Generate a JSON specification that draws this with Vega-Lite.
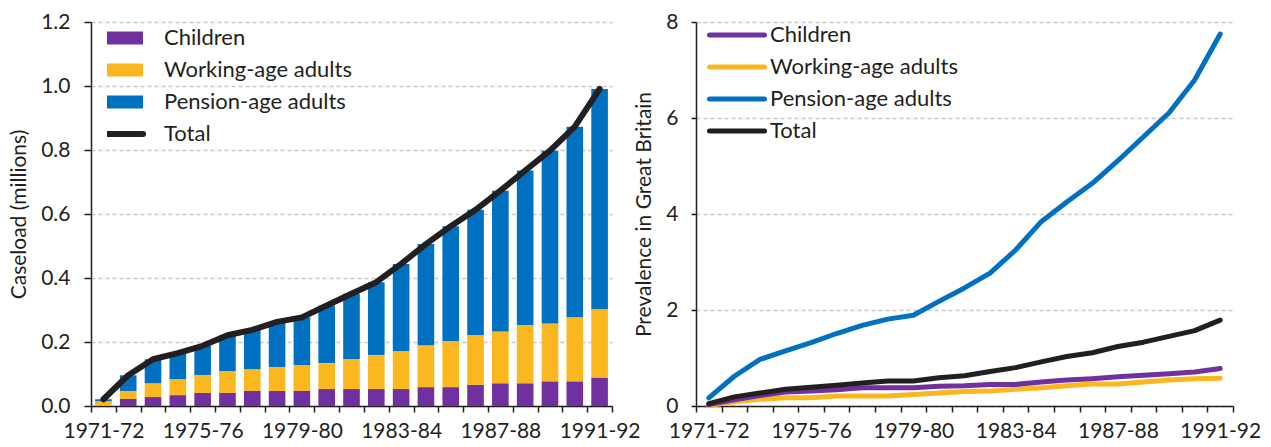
{
  "$schema": "https://vega.github.io/schema/vega-lite/v6.json",
  "padding": {"left": 8, "top": 11, "right": 5, "bottom": 0},
  "bounds": "flush",
  "spacing": 84,
  "config": {
    "font": "Lato",
    "view": {"stroke": null},
    "axis": {"labelFontSize": 21, "labelColor": "#231F20", "titleFontSize": 21, "titleFontWeight": "normal", "titleColor": "#231F20", "domainColor": "#231F20", "tickColor": "#231F20", "domainWidth": 1.5, "tickWidth": 1.5, "gridColor": "#C8C8C8", "gridDash": [4, 3], "gridWidth": 1.5},
    "legend": {"labelFontSize": 22, "labelColor": "#231F20", "labelLimit": 400, "symbolSize": 2500}
  },
  "datasets": {
    "caseload": [
      {"year":"1971-72","group":"Children","stackOrder":1,"value":0.001},{"year":"1971-72","group":"Working-age adults","stackOrder":2,"value":0.014},{"year":"1971-72","group":"Pension-age adults","stackOrder":3,"value":0.006},
      {"year":"1972-73","group":"Children","stackOrder":1,"value":0.022},{"year":"1972-73","group":"Working-age adults","stackOrder":2,"value":0.025},{"year":"1972-73","group":"Pension-age adults","stackOrder":3,"value":0.049},
      {"year":"1973-74","group":"Children","stackOrder":1,"value":0.028},{"year":"1973-74","group":"Working-age adults","stackOrder":2,"value":0.043},{"year":"1973-74","group":"Pension-age adults","stackOrder":3,"value":0.075},
      {"year":"1974-75","group":"Children","stackOrder":1,"value":0.034},{"year":"1974-75","group":"Working-age adults","stackOrder":2,"value":0.050},{"year":"1974-75","group":"Pension-age adults","stackOrder":3,"value":0.081},
      {"year":"1975-76","group":"Children","stackOrder":1,"value":0.041},{"year":"1975-76","group":"Working-age adults","stackOrder":2,"value":0.056},{"year":"1975-76","group":"Pension-age adults","stackOrder":3,"value":0.091},
      {"year":"1976-77","group":"Children","stackOrder":1,"value":0.041},{"year":"1976-77","group":"Working-age adults","stackOrder":2,"value":0.068},{"year":"1976-77","group":"Pension-age adults","stackOrder":3,"value":0.112},
      {"year":"1977-78","group":"Children","stackOrder":1,"value":0.047},{"year":"1977-78","group":"Working-age adults","stackOrder":2,"value":0.068},{"year":"1977-78","group":"Pension-age adults","stackOrder":3,"value":0.123},
      {"year":"1978-79","group":"Children","stackOrder":1,"value":0.047},{"year":"1978-79","group":"Working-age adults","stackOrder":2,"value":0.075},{"year":"1978-79","group":"Pension-age adults","stackOrder":3,"value":0.141},
      {"year":"1979-80","group":"Children","stackOrder":1,"value":0.047},{"year":"1979-80","group":"Working-age adults","stackOrder":2,"value":0.081},{"year":"1979-80","group":"Pension-age adults","stackOrder":3,"value":0.149},
      {"year":"1980-81","group":"Children","stackOrder":1,"value":0.053},{"year":"1980-81","group":"Working-age adults","stackOrder":2,"value":0.081},{"year":"1980-81","group":"Pension-age adults","stackOrder":3,"value":0.180},
      {"year":"1981-82","group":"Children","stackOrder":1,"value":0.053},{"year":"1981-82","group":"Working-age adults","stackOrder":2,"value":0.094},{"year":"1981-82","group":"Pension-age adults","stackOrder":3,"value":0.204},
      {"year":"1982-83","group":"Children","stackOrder":1,"value":0.053},{"year":"1982-83","group":"Working-age adults","stackOrder":2,"value":0.106},{"year":"1982-83","group":"Pension-age adults","stackOrder":3,"value":0.228},
      {"year":"1983-84","group":"Children","stackOrder":1,"value":0.053},{"year":"1983-84","group":"Working-age adults","stackOrder":2,"value":0.119},{"year":"1983-84","group":"Pension-age adults","stackOrder":3,"value":0.272},
      {"year":"1984-85","group":"Children","stackOrder":1,"value":0.059},{"year":"1984-85","group":"Working-age adults","stackOrder":2,"value":0.131},{"year":"1984-85","group":"Pension-age adults","stackOrder":3,"value":0.316},
      {"year":"1985-86","group":"Children","stackOrder":1,"value":0.059},{"year":"1985-86","group":"Working-age adults","stackOrder":2,"value":0.144},{"year":"1985-86","group":"Pension-age adults","stackOrder":3,"value":0.359},
      {"year":"1986-87","group":"Children","stackOrder":1,"value":0.066},{"year":"1986-87","group":"Working-age adults","stackOrder":2,"value":0.156},{"year":"1986-87","group":"Pension-age adults","stackOrder":3,"value":0.391},
      {"year":"1987-88","group":"Children","stackOrder":1,"value":0.071},{"year":"1987-88","group":"Working-age adults","stackOrder":2,"value":0.162},{"year":"1987-88","group":"Pension-age adults","stackOrder":3,"value":0.440},
      {"year":"1988-89","group":"Children","stackOrder":1,"value":0.071},{"year":"1988-89","group":"Working-age adults","stackOrder":2,"value":0.182},{"year":"1988-89","group":"Pension-age adults","stackOrder":3,"value":0.483},
      {"year":"1989-90","group":"Children","stackOrder":1,"value":0.077},{"year":"1989-90","group":"Working-age adults","stackOrder":2,"value":0.181},{"year":"1989-90","group":"Pension-age adults","stackOrder":3,"value":0.540},
      {"year":"1990-91","group":"Children","stackOrder":1,"value":0.077},{"year":"1990-91","group":"Working-age adults","stackOrder":2,"value":0.200},{"year":"1990-91","group":"Pension-age adults","stackOrder":3,"value":0.596},
      {"year":"1991-92","group":"Children","stackOrder":1,"value":0.089},{"year":"1991-92","group":"Working-age adults","stackOrder":2,"value":0.213},{"year":"1991-92","group":"Pension-age adults","stackOrder":3,"value":0.689}
    ],
    "caseloadTotal": [
      {"year":"1971-72","value":0.021},{"year":"1972-73","value":0.096},{"year":"1973-74","value":0.146},{"year":"1974-75","value":0.165},{"year":"1975-76","value":0.188},{"year":"1976-77","value":0.221},{"year":"1977-78","value":0.238},{"year":"1978-79","value":0.263},{"year":"1979-80","value":0.277},{"year":"1980-81","value":0.314},{"year":"1981-82","value":0.351},{"year":"1982-83","value":0.387},{"year":"1983-84","value":0.444},{"year":"1984-85","value":0.506},{"year":"1985-86","value":0.562},{"year":"1986-87","value":0.613},{"year":"1987-88","value":0.673},{"year":"1988-89","value":0.736},{"year":"1989-90","value":0.798},{"year":"1990-91","value":0.873},{"year":"1991-92","value":0.991}
    ],
    "prevalence": [
      {"year":"1971-72","group":"Working-age adults","value":0.01},{"year":"1972-73","group":"Working-age adults","value":0.09},{"year":"1973-74","group":"Working-age adults","value":0.14},{"year":"1974-75","group":"Working-age adults","value":0.17},{"year":"1975-76","group":"Working-age adults","value":0.17},{"year":"1976-77","group":"Working-age adults","value":0.21},{"year":"1977-78","group":"Working-age adults","value":0.21},{"year":"1978-79","group":"Working-age adults","value":0.21},{"year":"1979-80","group":"Working-age adults","value":0.24},{"year":"1980-81","group":"Working-age adults","value":0.27},{"year":"1981-82","group":"Working-age adults","value":0.30},{"year":"1982-83","group":"Working-age adults","value":0.31},{"year":"1983-84","group":"Working-age adults","value":0.35},{"year":"1984-85","group":"Working-age adults","value":0.38},{"year":"1985-86","group":"Working-age adults","value":0.42},{"year":"1986-87","group":"Working-age adults","value":0.46},{"year":"1987-88","group":"Working-age adults","value":0.46},{"year":"1988-89","group":"Working-age adults","value":0.50},{"year":"1989-90","group":"Working-age adults","value":0.54},{"year":"1990-91","group":"Working-age adults","value":0.57},{"year":"1991-92","group":"Working-age adults","value":0.58},
      {"year":"1971-72","group":"Children","value":0.03},{"year":"1972-73","group":"Children","value":0.13},{"year":"1973-74","group":"Children","value":0.22},{"year":"1974-75","group":"Children","value":0.29},{"year":"1975-76","group":"Children","value":0.31},{"year":"1976-77","group":"Children","value":0.34},{"year":"1977-78","group":"Children","value":0.38},{"year":"1978-79","group":"Children","value":0.38},{"year":"1979-80","group":"Children","value":0.38},{"year":"1980-81","group":"Children","value":0.41},{"year":"1981-82","group":"Children","value":0.42},{"year":"1982-83","group":"Children","value":0.45},{"year":"1983-84","group":"Children","value":0.45},{"year":"1984-85","group":"Children","value":0.50},{"year":"1985-86","group":"Children","value":0.54},{"year":"1986-87","group":"Children","value":0.57},{"year":"1987-88","group":"Children","value":0.61},{"year":"1988-89","group":"Children","value":0.64},{"year":"1989-90","group":"Children","value":0.67},{"year":"1990-91","group":"Children","value":0.71},{"year":"1991-92","group":"Children","value":0.78},
      {"year":"1971-72","group":"Pension-age adults","value":0.17},{"year":"1972-73","group":"Pension-age adults","value":0.62},{"year":"1973-74","group":"Pension-age adults","value":0.97},{"year":"1974-75","group":"Pension-age adults","value":1.15},{"year":"1975-76","group":"Pension-age adults","value":1.32},{"year":"1976-77","group":"Pension-age adults","value":1.51},{"year":"1977-78","group":"Pension-age adults","value":1.68},{"year":"1978-79","group":"Pension-age adults","value":1.81},{"year":"1979-80","group":"Pension-age adults","value":1.89},{"year":"1980-81","group":"Pension-age adults","value":2.18},{"year":"1981-82","group":"Pension-age adults","value":2.46},{"year":"1982-83","group":"Pension-age adults","value":2.77},{"year":"1983-84","group":"Pension-age adults","value":3.25},{"year":"1984-85","group":"Pension-age adults","value":3.84},{"year":"1985-86","group":"Pension-age adults","value":4.25},{"year":"1986-87","group":"Pension-age adults","value":4.64},{"year":"1987-88","group":"Pension-age adults","value":5.11},{"year":"1988-89","group":"Pension-age adults","value":5.61},{"year":"1989-90","group":"Pension-age adults","value":6.11},{"year":"1990-91","group":"Pension-age adults","value":6.79},{"year":"1991-92","group":"Pension-age adults","value":7.75},
      {"year":"1971-72","group":"Total","value":0.05},{"year":"1972-73","group":"Total","value":0.19},{"year":"1973-74","group":"Total","value":0.27},{"year":"1974-75","group":"Total","value":0.35},{"year":"1975-76","group":"Total","value":0.39},{"year":"1976-77","group":"Total","value":0.43},{"year":"1977-78","group":"Total","value":0.48},{"year":"1978-79","group":"Total","value":0.52},{"year":"1979-80","group":"Total","value":0.52},{"year":"1980-81","group":"Total","value":0.59},{"year":"1981-82","group":"Total","value":0.63},{"year":"1982-83","group":"Total","value":0.72},{"year":"1983-84","group":"Total","value":0.80},{"year":"1984-85","group":"Total","value":0.92},{"year":"1985-86","group":"Total","value":1.03},{"year":"1986-87","group":"Total","value":1.11},{"year":"1987-88","group":"Total","value":1.24},{"year":"1988-89","group":"Total","value":1.33},{"year":"1989-90","group":"Total","value":1.45},{"year":"1990-91","group":"Total","value":1.57},{"year":"1991-92","group":"Total","value":1.79}
    ]
  },
  "hconcat": [
    {
      "width": 521,
      "height": 384,
      "layer": [
        {
          "data": {"name": "caseload"},
          "mark": {"type": "bar", "width": {"band": 0.67}},
          "encoding": {
            "x": {"field": "year", "type": "ordinal", "scale": {"paddingInner": 0, "paddingOuter": 0},
              "axis": {"title": null, "tickBand": "extent", "labelAngle": 0, "labelOverlap": false, "tickSize": 6, "labelPadding": 8, "grid": false,
                "labelExpr": "indexof(['1971-72','1975-76','1979-80','1983-84','1987-88','1991-92'], datum.value) >= 0 ? datum.value : ''"}},
            "y": {"field": "value", "type": "quantitative", "stack": "zero", "scale": {"domain": [0, 1.2]},
              "axis": {"values": [0, 0.2, 0.4, 0.6, 0.8, 1, 1.2], "format": ".1f", "grid": true, "tickSize": 7, "labelPadding": 14, "title": "Caseload (millions)", "titlePadding": 11}},
            "order": {"field": "stackOrder", "type": "quantitative", "sort": "ascending"},
            "color": {"field": "group", "type": "nominal",
              "scale": {"domain": ["Children", "Working-age adults", "Pension-age adults", "Total"], "range": ["#70309F", "#FBB720", "#0070C0", "#231F20"]},
              "legend": {"orient": "none", "legendX": 16, "legendY": 3, "title": null, "padding": 0, "clipHeight": 26, "rowPadding": 6, "labelOffset": 35, "symbolSize": 2500, "labelLimit": 400,
                "encode": {"symbols": {"update": {
                  "shape": {"signal": "datum.value === 'Total' ? 'stroke' : 'M-1,-0.26H1V0.26H-1Z'"},
                  "fill": {"signal": "datum.value === 'Children' ? '#70309F' : datum.value === 'Working-age adults' ? '#FBB720' : datum.value === 'Pension-age adults' ? '#0070C0' : 'transparent'"},
                  "stroke": {"signal": "datum.value === 'Total' ? '#231F20' : 'transparent'"},
                  "strokeWidth": {"signal": "datum.value === 'Total' ? 6 : 0"},
                  "strokeCap": {"value": "round"},
                  "size": {"value": 2500},
                  "opacity": {"value": 1}
                }}}}}
          }
        },
        {
          "data": {"name": "caseloadTotal"},
          "mark": {"type": "line", "strokeWidth": 6, "strokeCap": "round", "strokeJoin": "round"},
          "encoding": {
            "x": {"field": "year", "type": "ordinal"},
            "y": {"field": "value", "type": "quantitative"},
            "color": {"datum": "Total"}
          }
        }
      ]
    },
    {
      "width": 537,
      "height": 384,
      "data": {"name": "prevalence"},
      "mark": {"type": "line", "strokeWidth": 5, "strokeCap": "round", "strokeJoin": "round"},
      "encoding": {
        "x": {"field": "year", "type": "ordinal", "scale": {"type": "band", "paddingInner": 0, "paddingOuter": 0},
          "axis": {"title": null, "tickBand": "extent", "labelAngle": 0, "labelOverlap": false, "tickSize": 6, "labelPadding": 8, "grid": false,
            "labelExpr": "indexof(['1971-72','1975-76','1979-80','1983-84','1987-88','1991-92'], datum.value) >= 0 ? datum.value : ''"}},
        "y": {"field": "value", "type": "quantitative", "scale": {"domain": [0, 8]},
          "axis": {"values": [0, 2, 4, 6, 8], "grid": true, "tickSize": 5, "labelPadding": 13, "title": "Prevalence in Great Britain", "titlePadding": 11}},
        "color": {"field": "group", "type": "nominal",
          "scale": {"domain": ["Children", "Working-age adults", "Pension-age adults", "Total"], "range": ["#70309F", "#FBB720", "#0070C0", "#231F20"]},
          "legend": {"orient": "none", "legendX": 11, "legendY": 0, "title": null, "padding": 0, "clipHeight": 26, "rowPadding": 6, "labelOffset": 3, "labelLimit": 400,
            "symbolType": "stroke", "symbolSize": 3025, "symbolStrokeWidth": 5,
            "encode": {"symbols": {"update": {"strokeCap": {"value": "round"}, "opacity": {"value": 1}}}}}
        }
      }
    }
  ],
  "resolve": {"scale": {"color": "independent", "x": "independent", "y": "independent"}}
}
